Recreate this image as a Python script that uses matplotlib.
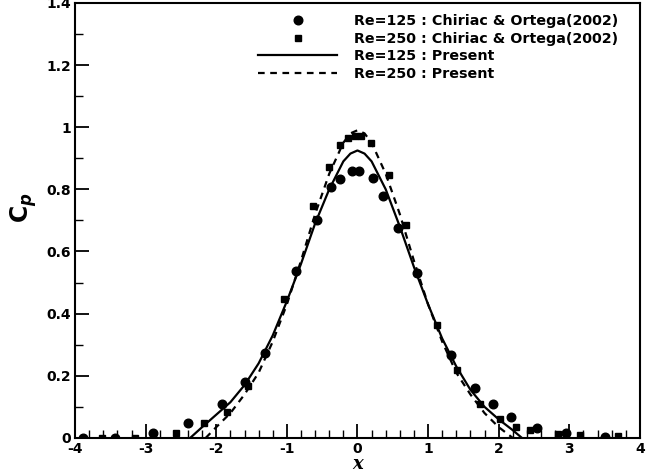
import matplotlib
matplotlib.use('Agg')
import matplotlib.pyplot as plt
from matplotlib.ticker import MultipleLocator

plt.rcParams['mathtext.fontset'] = 'custom'
plt.rcParams['mathtext.it'] = 'DejaVu Sans:italic:bold'
plt.rcParams['mathtext.rm'] = 'DejaVu Sans:bold'

# Chiriac & Ortega (2002), Re=125 (circles)
x_c125 = [-3.89, -3.43, -2.89, -2.40, -1.92, -1.59, -1.31, -0.87, -0.58, -0.37, -0.25, -0.08,
          0.02, 0.215, 0.36, 0.58, 0.85, 1.33, 1.66, 1.92, 2.17, 2.54, 2.95, 3.50]
y_c125 = [0.0, 0.0, 0.017, 0.049, 0.109, 0.18, 0.274, 0.538, 0.70, 0.806, 0.833, 0.859,
          0.859, 0.837, 0.78, 0.677, 0.53, 0.267, 0.16, 0.11, 0.068, 0.033, 0.017, 0.004]

# Chiriac & Ortega (2002), Re=250 (squares)
x_c250 = [-3.62, -3.15, -2.57, -2.17, -1.85, -1.55, -1.04, -0.63, -0.40, -0.25, -0.13, -0.035,
          0.05, 0.19, 0.44, 0.69, 0.85, 1.12, 1.41, 1.735, 2.02, 2.25, 2.44, 2.84, 3.15, 3.69]
y_c250 = [0.0, 0.0, 0.017, 0.047, 0.085, 0.167, 0.446, 0.746, 0.872, 0.942, 0.964, 0.972,
          0.972, 0.95, 0.846, 0.685, 0.53, 0.363, 0.219, 0.11, 0.06, 0.036, 0.026, 0.013, 0.01, 0.007]

# Present, Re=125 (solid)
x_p125 = [-2.37, -2.2, -2.0, -1.8, -1.6, -1.4, -1.2, -1.0, -0.8, -0.6, -0.4, -0.2, -0.1, 0.0,
          0.1, 0.2, 0.4, 0.6, 0.8, 1.0, 1.2, 1.4, 1.6, 1.8, 2.0, 2.2, 2.33]
y_p125 = [0.0, 0.035, 0.075, 0.115, 0.17, 0.24, 0.33, 0.44, 0.56, 0.69, 0.80, 0.89, 0.915, 0.925,
          0.915, 0.89, 0.80, 0.68, 0.55, 0.43, 0.32, 0.23, 0.155, 0.10, 0.06, 0.025, 0.0]

# Present, Re=250 (dashed)
x_p250 = [-2.15, -2.0, -1.8, -1.6, -1.4, -1.2, -1.0, -0.8, -0.6, -0.4, -0.2, -0.1, 0.0,
          0.1, 0.2, 0.4, 0.6, 0.8, 1.0, 1.2, 1.4, 1.6, 1.8, 2.0, 2.2]
y_p250 = [0.0, 0.035, 0.08, 0.14, 0.21, 0.31, 0.43, 0.57, 0.72, 0.85, 0.95, 0.98, 0.99,
          0.98, 0.95, 0.85, 0.72, 0.57, 0.43, 0.31, 0.21, 0.14, 0.08, 0.035, 0.0]

x_ticks = [-4, -3, -2, -1, 0, 1, 2, 3, 4]
y_ticks = [0, 0.2, 0.4, 0.6, 0.8, 1.0, 1.2, 1.4]
y_ticklabels = ['0', '0.2', '0.4', '0.6', '0.8', '1', '1.2', '1.4']

fig = plt.figure(figsize=(6.47, 4.74), dpi=100)
ax = fig.add_axes([0.116, 0.076, 0.873, 0.918])

ax.plot(x_c125, y_c125, 'o', color='black', markersize=6.2, label='Re=125 : Chiriac & Ortega(2002)')
ax.plot(x_c250, y_c250, 's', color='black', markersize=4.2, label='Re=250 : Chiriac & Ortega(2002)')
ax.plot(x_p125, y_p125, '-', color='black', lw=1.6, label='Re=125 : Present')
ax.plot(x_p250, y_p250, '--', color='black', lw=1.6, dashes=(3, 2.5), label='Re=250 : Present')

ax.set_xlim(-4, 4)
ax.set_ylim(0, 1.4)
ax.set_xticks(x_ticks)
ax.set_xticklabels([str(v) for v in x_ticks])
ax.set_yticks(y_ticks)
ax.set_yticklabels(y_ticklabels)
ax.xaxis.set_minor_locator(MultipleLocator(0.2))
ax.yaxis.set_minor_locator(MultipleLocator(0.1))
ax.tick_params(which='major', direction='in', length=10, width=1.3, labelsize=10, pad=3)
ax.tick_params(which='minor', direction='in', length=6, width=1.0)
for lab in ax.get_xticklabels() + ax.get_yticklabels():
    lab.set_fontweight('bold')
for sp in ax.spines.values():
    sp.set_linewidth(1.5)

ax.set_xlabel('x', fontsize=13, fontstyle='italic', fontweight='bold', family='DejaVu Serif', labelpad=-1)
ax.set_ylabel(r'$\mathrm{C}_p$', fontsize=17)
ax.yaxis.set_label_coords(-0.064, 0.53)

ax.legend(loc='upper right', bbox_to_anchor=(0.982, 1.0), frameon=False,
          prop={'weight': 'bold', 'size': 10.3}, handlelength=5.5, handletextpad=1.2,
          labelspacing=0.25, borderpad=0.3)

plt.savefig('out.png', dpi=100)
